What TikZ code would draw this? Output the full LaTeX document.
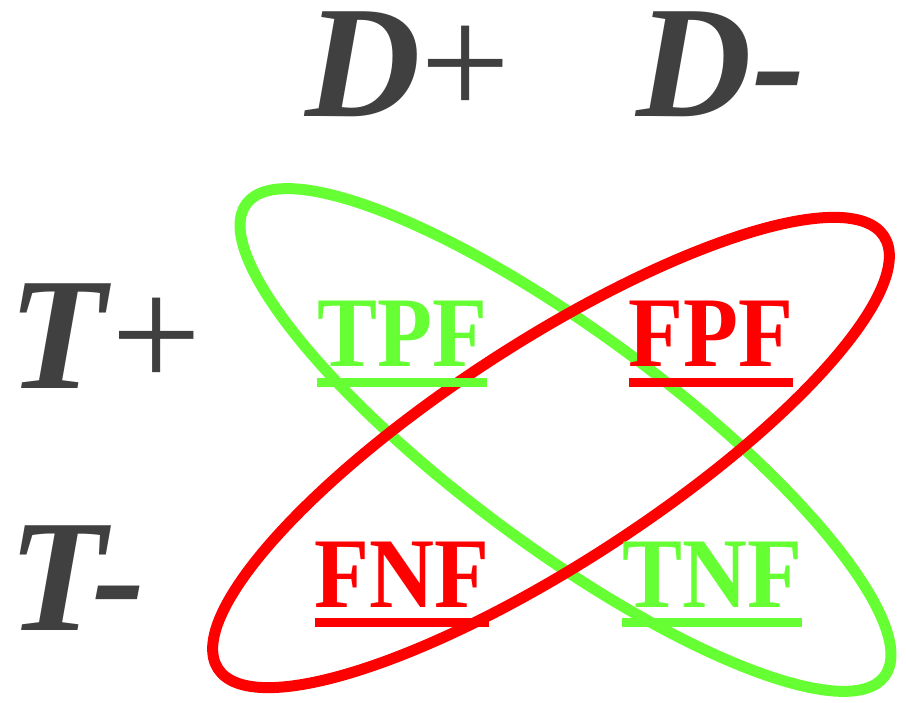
\documentclass[tikz,border=0pt]{standalone}
\usepackage{fontspec}
\setmainfont{Liberation Serif}
\newfontfamily\cellfont[FakeStretch=0.9]{Liberation Serif}
\definecolor{ctgray}{HTML}{404040}
\definecolor{ctgreen}{HTML}{66FF33}
\definecolor{ctred}{HTML}{FF0000}
\newcommand{\ulined}[1]{\setbox0\hbox{#1}\rlap{\rule[-20pt]{\wd0}{9pt}}\box0}

\begin{document}
\begin{tikzpicture}[x=1pt, y=1pt,
  hdr/.style={font=\fontsize{160}{168}\selectfont\bfseries\itshape, text=ctgray,
              anchor=base, inner sep=0pt, text height=108pt},
  cell/.style={font=\fontsize{100}{110}\selectfont\cellfont\bfseries, anchor=base, inner sep=0pt},
  ring/.style={line width=11pt},
]
  \useasboundingbox (0,0) rectangle (906,-703);

  % the two rings
  \draw[ring, ctgreen, rotate around={-36.5:(565.5,-440)}]
    (565.5,-440) ellipse [x radius=397, y radius=107];
  \draw[ring, ctred, rotate around={33:(551,-452.5)}]
    (551,-452.5) ellipse [x radius=397, y radius=110];

  % headers
  \node[hdr] (dpos) at (408,-117) {D\textup{\mdseries +}};
  \node[hdr] (dneg) at (721,-117) {D-};
  \node[hdr] (tpos) at (105,-389) {T\textup{\mdseries +}};
  \node[hdr] (tneg) at (77,-630)  {T-};

  % cells
  \node[cell, text=ctgreen] (tpf) at (402,-367) {\ulined{TPF}};
  \node[cell, text=ctred]   (fpf) at (711,-367) {\ulined{FPF}};
  \node[cell, text=ctred]   (fnf) at (402,-607) {\ulined{FNF}};
  \node[cell, text=ctgreen] (tnf) at (712,-607) {\ulined{TNF}};
\end{tikzpicture}
\end{document}
